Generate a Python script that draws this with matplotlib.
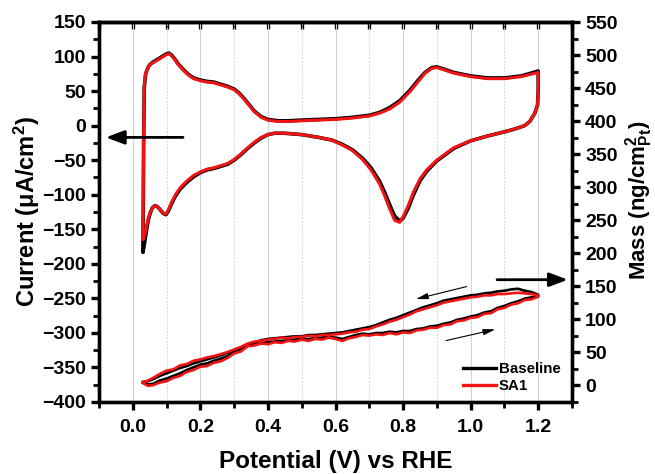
import matplotlib
matplotlib.use('Agg')
import matplotlib.pyplot as plt
from matplotlib.ticker import MultipleLocator
from matplotlib.lines import Line2D

plt.rcParams['font.family'] = ['Liberation Sans', 'DejaVu Sans']
plt.rcParams['font.weight'] = 'bold'
plt.rcParams['mathtext.fontset'] = 'custom'
plt.rcParams['mathtext.rm'] = 'Liberation Sans:bold'
plt.rcParams['mathtext.bf'] = 'Liberation Sans:bold'
plt.rcParams['mathtext.it'] = 'Liberation Sans:bold:italic'
plt.rcParams['mathtext.default'] = 'bf'

# ---------------- data ----------------
SERIES = ['Baseline', 'SA1']
COLORS = ['#000000', '#f01414']

# Cyclic voltammogram (current, left axis)
CV_ANODIC_V = [0.030, 0.031, 0.032, 0.034, 0.038, 0.045, 0.050, 0.060, 0.070, 0.080,
               0.090, 0.100, 0.107, 0.115, 0.125, 0.135, 0.150, 0.165, 0.180, 0.200,
               0.220, 0.240, 0.260, 0.280, 0.300, 0.315, 0.330, 0.345, 0.360, 0.380,
               0.400, 0.430, 0.460, 0.500, 0.550, 0.600, 0.650, 0.700, 0.730, 0.760,
               0.790, 0.820, 0.845, 0.865, 0.885, 0.900, 0.920, 0.950, 1.000, 1.050,
               1.100, 1.150, 1.200]
CV_BASE_ANODIC = [-183, -120, -30, 55, 75, 84, 88, 92, 95, 98,
                  101, 104, 105, 102, 96, 89, 81, 74, 69, 66,
                  64, 63, 60, 57, 53, 47, 39, 30, 21, 13,
                  9, 7, 7, 8, 9, 10, 12, 15, 19, 26,
                  36, 51, 66, 77, 84, 85, 82, 77, 72, 69,
                  69, 72, 79]
CV_SA1_ANODIC = [-165, -110, -25, 58, 76, 84, 88, 91, 94, 97,
                 100, 103, 104, 101, 95, 88, 80, 73, 68, 65,
                 63, 62, 59, 56, 52, 46, 38, 29, 20, 12,
                 8, 6, 6, 7, 8, 9, 11, 14, 18, 24,
                 34, 49, 64, 76, 83, 84, 81, 76, 71, 68,
                 68, 71, 77]
CV_CATHODIC_V = [1.200, 1.200, 1.198, 1.190, 1.175, 1.160, 1.130, 1.100, 1.050, 1.000,
                 0.950, 0.900, 0.870, 0.850, 0.830, 0.815, 0.800, 0.790, 0.775, 0.760,
                 0.745, 0.730, 0.705, 0.680, 0.650, 0.620, 0.590, 0.550, 0.500, 0.450,
                 0.420, 0.400, 0.380, 0.360, 0.340, 0.320, 0.300, 0.280, 0.260, 0.240,
                 0.220, 0.200, 0.180, 0.160, 0.140, 0.125, 0.113, 0.105, 0.098, 0.090,
                 0.080, 0.072, 0.065, 0.058, 0.052, 0.046, 0.041, 0.037, 0.033, 0.030]
CV_BASE_CATHODIC = [79, 50, 30, 18, 6, 0, -5, -9, -15, -22,
                    -33, -51, -66, -80, -101, -120, -134, -138, -131, -114,
                    -96, -80, -61, -47, -35, -27, -21, -17, -13, -11,
                    -11, -13, -18, -25, -33, -42, -50, -56, -59, -62,
                    -64, -68, -74, -82, -92, -103, -115, -124, -129, -127,
                    -121, -117, -116, -119, -126, -136, -150, -163, -175, -183]
CV_SA1_CATHODIC = [77, 50, 30, 18, 6, 0, -5, -9, -15, -22,
                   -32, -50, -64, -77, -97, -116, -132, -140, -137, -120,
                   -101, -84, -64, -49, -36, -28, -21, -17, -13, -11,
                   -11, -13, -17, -24, -32, -41, -49, -55, -58, -61,
                   -63, -67, -72, -80, -90, -101, -113, -122, -128, -127,
                   -121, -117, -116, -119, -125, -134, -145, -155, -162, -165]

# EQCM mass change (right axis)
MASS_V = [0.030, 0.045, 0.060, 0.080, 0.100, 0.120, 0.140, 0.160, 0.180, 0.200,
          0.220, 0.240, 0.260, 0.280, 0.300, 0.320, 0.340, 0.360, 0.380, 0.400,
          0.420, 0.440, 0.460, 0.480, 0.500, 0.520, 0.540, 0.560, 0.580, 0.600,
          0.620, 0.640, 0.660, 0.680, 0.700, 0.720, 0.740, 0.760, 0.780, 0.800,
          0.820, 0.840, 0.860, 0.880, 0.900, 0.920, 0.940, 0.960, 0.980, 1.000,
          1.020, 1.040, 1.060, 1.080, 1.100, 1.120, 1.140, 1.160, 1.180, 1.200]
MASS_BASE_FWD = [4, 1, 2, 7, 10, 14, 18, 23, 27, 31,
                 33, 37, 40, 44, 50, 54, 60, 62, 64, 65,
                 66, 67, 68, 69, 70, 70, 71, 72, 73, 72,
                 70, 73, 76, 78, 77, 79, 79, 81, 80, 82,
                 82, 85, 86, 89, 90, 93, 95, 99, 101, 104,
                 106, 110, 112, 117, 120, 124, 127, 131, 133, 135]
MASS_BASE_REV = [5, 6, 9, 14, 18, 22, 26, 29, 33, 36,
                 39, 42, 45, 49, 53, 57, 62, 65, 68, 70,
                 71, 72, 73, 74, 74, 76, 76, 77, 78, 79,
                 80, 82, 84, 86, 88, 91, 95, 99, 102, 106,
                 110, 114, 118, 121, 124, 128, 130, 132, 134, 136,
                 137, 139, 140, 142, 143, 145, 146, 143, 141, 137]
MASS_SA1_FWD = [3, -1, 0, 4, 6, 11, 14, 20, 23, 28,
                29, 34, 36, 41, 48, 51, 59, 60, 63, 62,
                65, 64, 67, 66, 69, 67, 70, 69, 72, 70,
                67, 71, 73, 76, 75, 77, 76, 79, 77, 80,
                79, 83, 84, 87, 87, 91, 92, 97, 98, 102,
                103, 108, 109, 115, 117, 122, 124, 129, 130, 134]
MASS_SA1_REV = [4, 7, 11, 17, 22, 24, 30, 32, 37, 39,
                42, 44, 47, 50, 54, 58, 63, 66, 67, 69,
                70, 72, 71, 73, 73, 75, 74, 76, 76, 77,
                78, 80, 81, 84, 85, 89, 92, 96, 99, 103,
                107, 112, 115, 118, 121, 125, 127, 129, 131, 133,
                134, 136, 136, 138, 138, 139, 140, 139, 138, 136]

X_TICKS = [0.0, 0.2, 0.4, 0.6, 0.8, 1.0, 1.2]
LEFT_TICKS = [-400, -350, -300, -250, -200, -150, -100, -50, 0, 50, 100, 150]
RIGHT_TICKS = [0, 50, 100, 150, 200, 250, 300, 350, 400, 450, 500, 550]

# ---------------- figure ----------------
fig = plt.figure(figsize=(6.55, 4.74), dpi=100)
ax = fig.add_axes([99 / 655, 72 / 474, 473 / 655, 380 / 474])
ax2 = ax.twinx()

ax.set_xlim(-0.1, 1.3)
ax.set_ylim(-400, 150)
ax2.set_ylim(-25.5, 550)

ax.set_axisbelow(True)
ax.xaxis.set_major_locator(MultipleLocator(0.2))
ax.xaxis.set_minor_locator(MultipleLocator(0.1))
ax.set_xticks(X_TICKS)
ax.set_yticks(LEFT_TICKS)
ax.yaxis.set_minor_locator(MultipleLocator(25))
ax2.set_yticks(RIGHT_TICKS)
ax2.yaxis.set_minor_locator(MultipleLocator(25))

ax.xaxis.grid(True, which='major', color='#d4d4d4', lw=0.8, ls='-')
ax.xaxis.grid(True, which='minor', color='#d4d4d4', lw=0.8, ls=(0, (1.5, 1.5)))

cv_sets = [(CV_BASE_ANODIC, CV_BASE_CATHODIC), (CV_SA1_ANODIC, CV_SA1_CATHODIC)]
mass_sets = [(MASS_BASE_FWD, MASS_BASE_REV), (MASS_SA1_FWD, MASS_SA1_REV)]
for (an, ca), col, lw in zip(cv_sets, COLORS, [2.6, 2.2]):
    ax.plot(CV_ANODIC_V + CV_CATHODIC_V, an + ca, color=col, lw=lw,
            solid_joinstyle='round', solid_capstyle='round')
for (fw, rv), col in zip(mass_sets, COLORS):
    ax2.plot(MASS_V + MASS_V[::-1], fw + rv[::-1], color=col, lw=1.9,
             solid_joinstyle='round')

# styling
for a in (ax, ax2):
    for s in a.spines.values():
        s.set_linewidth(2.4)
ax.tick_params(axis='both', which='major', direction='out', length=6, width=2.4,
               labelsize=14, top=False, right=False)
ax.tick_params(axis='both', which='minor', direction='out', length=4, width=2.0,
               top=False, right=False)
ax.tick_params(axis='x', which='major', pad=6)
ax2.tick_params(axis='y', which='major', direction='out', length=6, width=2.4,
                labelsize=14)
ax2.tick_params(axis='y', which='minor', direction='out', length=4, width=2.0)
for lab in ax.get_xticklabels() + ax.get_yticklabels() + ax2.get_yticklabels():
    lab.set_fontweight('bold')
ax.set_xticklabels(['0.0', '0.2', '0.4', '0.6', '0.8', '1.0', '1.2'])

sec = ax.secondary_xaxis('top')
sec.xaxis.set_major_locator(MultipleLocator(0.1))
sec.tick_params(direction='in', length=5, width=2.4, labelsize=0, labeltop=False)
sec.spines['top'].set_linewidth(2.4)

ax.set_xlabel('Potential (V) vs RHE', fontsize=17.5, fontweight='bold', labelpad=10)
ax.set_ylabel('Current (μA/cm$^{2}$)', fontsize=17, fontweight='bold', labelpad=0)
ax2.set_ylabel('Mass (ng/cm$^{2}_{Pt}$)', fontsize=16, fontweight='bold')
ax2.yaxis.set_label_coords(1.108, 0.53)

# arrows
ax.annotate('', xy=(-0.088, -17), xytext=(0.157, -17),
            arrowprops=dict(arrowstyle='-|>,head_length=0.8,head_width=0.3',
                            color='black', lw=2.0, mutation_scale=14))
ax.annotate('', xy=(1.296, -223), xytext=(1.07, -223),
            arrowprops=dict(arrowstyle='-|>,head_length=0.8,head_width=0.3',
                            color='black', lw=2.0, mutation_scale=14))
ax.annotate('', xy=(0.83, -252), xytext=(0.996, -232),
            arrowprops=dict(arrowstyle='-|>,head_length=0.6,head_width=0.15',
                            color='black', lw=0.8, mutation_scale=12))
ax.annotate('', xy=(1.081, -294), xytext=(0.919, -312),
            arrowprops=dict(arrowstyle='-|>,head_length=0.6,head_width=0.15',
                            color='black', lw=0.8, mutation_scale=12))

handles = [Line2D([], [], color=c, lw=2.4) for c in COLORS]
leg = ax2.legend(handles, SERIES, loc='lower left', bbox_to_anchor=(0.756, 0.008),
                 frameon=False, fontsize=10.8, handlelength=2.2, handletextpad=0.2,
                 labelspacing=0.2, borderaxespad=0)
for t in leg.get_texts():
    t.set_fontweight('bold')

fig.savefig('out.png', dpi=100)
